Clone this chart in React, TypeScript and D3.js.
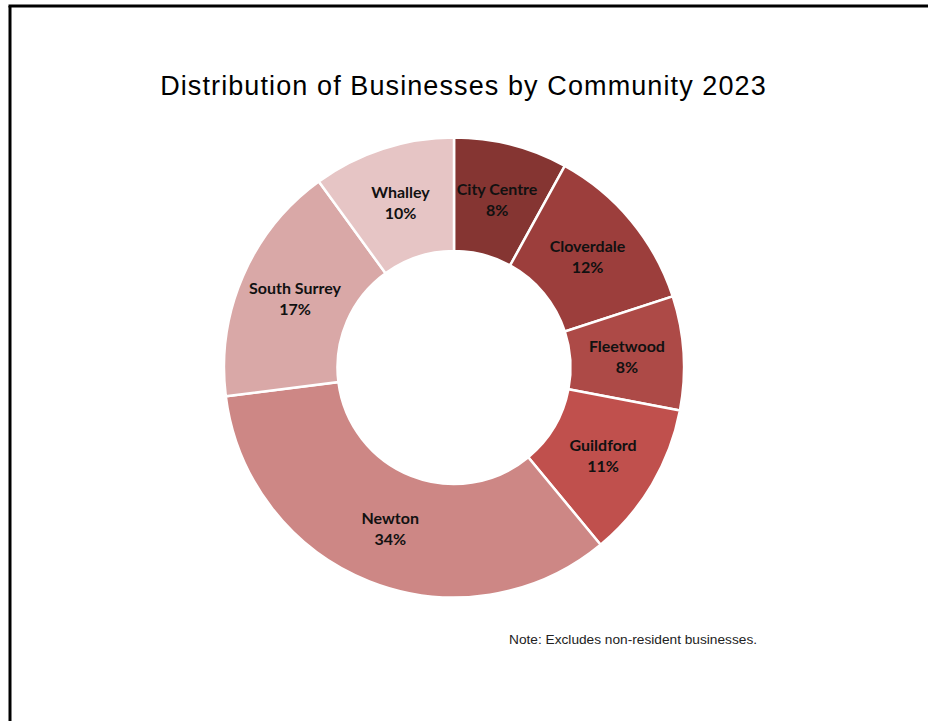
import React, { useEffect } from "react";
import * as d3 from "d3";

const communities = ["City Centre", "Cloverdale", "Fleetwood", "Guildford", "Newton", "South Surrey", "Whalley"];
const shares = [8, 12, 8, 11, 34, 17, 10];
const sliceColors = ["#853532", "#9c3e3c", "#ad4a47", "#c0504d", "#cd8785", "#d9a8a7", "#e6c5c5"];

const W = 928;
const H = 721;
const cx = 454;
const cy = 367.5;
const outerR = 230;
const innerR = 116.5;

export default function App() {
  useEffect(() => {
    document.body.style.margin = "0";
    document.body.style.overflow = "hidden";
  }, []);

  const pie = d3.pie<number>().sort(null).value((d) => d)(shares);
  const arc = d3.arc<d3.PieArcDatum<number>>().innerRadius(innerR).outerRadius(outerR);

  return (
    <div style={{ width: W, height: H, overflow: "hidden" }}>
      <svg width={W} height={H} style={{ display: "block", background: "#fff" }}>
        {/* frame: left and top edges */}
        <line x1={10} y1={6} x2={10} y2={H} stroke="#000" strokeWidth={3} />
        <line x1={8.5} y1={6} x2={W} y2={6} stroke="#000" strokeWidth={3} />

        <text
          x={463.5}
          y={95}
          textAnchor="middle"
          fontFamily="Liberation Sans, Arial, sans-serif"
          fontSize={27}
          letterSpacing={1.1}
          fill="#000"
        >
          Distribution of Businesses by Community 2023
        </text>

        <g transform={`translate(${cx},${cy})`}>
          {pie.map((p, i) => (
            <path key={communities[i]} d={arc(p) || ""} fill={sliceColors[i]} stroke="#fff" strokeWidth={2.5} />
          ))}
          {pie.map((p, i) => {
            const [lx, ly] = arc.centroid(p);
            return (
              <text
                key={"l" + communities[i]}
                x={lx}
                y={ly}
                textAnchor="middle"
                fontFamily="Lato, 'Open Sans', sans-serif"
                fontWeight="bold"
                fontSize={16}
                fill="#111"
              >
                <tspan x={lx} dy={-5}>{communities[i]}</tspan>
                <tspan x={lx} dy={21}>{shares[i]}%</tspan>
              </text>
            );
          })}
        </g>

        <text
          x={509}
          y={644}
          fontFamily="Liberation Sans, Arial, sans-serif"
          fontSize={13.7}
          fill="#222"
        >
          Note: Excludes non-resident businesses.
        </text>
      </svg>
    </div>
  );
}
